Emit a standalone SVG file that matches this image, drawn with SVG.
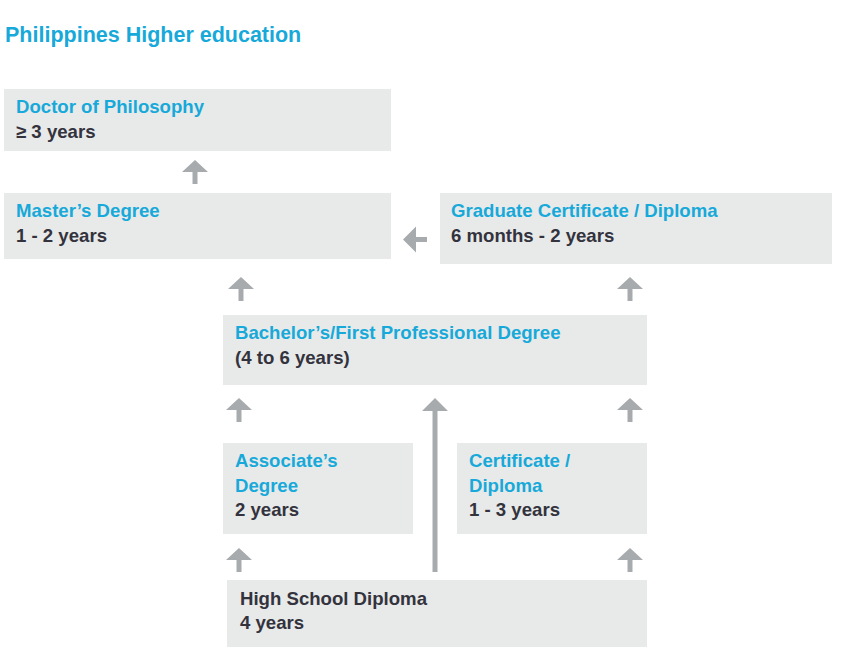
<svg xmlns="http://www.w3.org/2000/svg" width="842" height="649" viewBox="0 0 842 649">
<style>
.box{fill:#e8e9e9}
.t{font-family:"Liberation Sans",Arial,sans-serif;font-weight:bold;font-size:18.6px}
.b{fill:#17a9d9}
.d{fill:#33333d}
.arr{fill:#a7abad}
.title{font-family:"Liberation Sans",Arial,sans-serif;font-weight:bold;font-size:21.5px;fill:#17a9d9}
</style>
<defs>
<path id="up" d="M-13,12 L0,0 L13,12 L2.5,12 L2.5,24 L-2.5,24 L-2.5,12 Z"/>
</defs>
<rect width="842" height="649" fill="#ffffff"/>
<text class="title" x="5" y="42">Philippines Higher education</text>

<g id="doctor">
<rect class="box" x="4" y="89" width="387" height="62"/>
<text class="t b" x="16" y="113">Doctor of Philosophy</text>
<text class="t d" x="16" y="138">≥ 3 years</text>
</g>
<g id="masters">
<rect class="box" x="4" y="193" width="387" height="66"/>
<text class="t b" x="16" y="217">Master’s Degree</text>
<text class="t d" x="16" y="242">1 - 2 years</text>
</g>
<g id="graduate">
<rect class="box" x="440" y="193" width="392" height="71"/>
<text class="t b" x="451" y="217">Graduate Certificate / Diploma</text>
<text class="t d" x="451" y="242">6 months - 2 years</text>
</g>
<g id="bachelors">
<rect class="box" x="223" y="315" width="424" height="70"/>
<text class="t b" x="235" y="339">Bachelor’s/First Professional Degree</text>
<text class="t d" x="235" y="364">(4 to 6 years)</text>
</g>
<g id="associate">
<rect class="box" x="223" y="443" width="190" height="91"/>
<text class="t b" x="235" y="467">Associate’s</text>
<text class="t b" x="235" y="492">Degree</text>
<text class="t d" x="235" y="516">2 years</text>
</g>
<g id="certificate">
<rect class="box" x="457" y="443" width="190" height="91"/>
<text class="t b" x="469" y="467">Certificate /</text>
<text class="t b" x="469" y="492">Diploma</text>
<text class="t d" x="469" y="516">1 - 3 years</text>
</g>
<g id="highschool">
<rect class="box" x="227" y="580" width="420" height="67"/>
<text class="t d" x="240" y="605">High School Diploma</text>
<text class="t d" x="240" y="629">4 years</text>
</g>

<g id="connectors" class="arr">
<use href="#up" x="195" y="160"/>
<use href="#up" x="241" y="277"/>
<use href="#up" x="630" y="277"/>
<use href="#up" x="239" y="398"/>
<use href="#up" x="630" y="398"/>
<use href="#up" x="239" y="548"/>
<use href="#up" x="630" y="548"/>
<path d="M422,411 L435,398 L448,411 L437.5,411 L437.5,572 L432.5,572 L432.5,411 Z"/>
<path d="M403,239.5 L416,226.5 L416,237 L427,237 L427,242 L416,242 L416,252.5 Z"/>
</g>
</svg>
